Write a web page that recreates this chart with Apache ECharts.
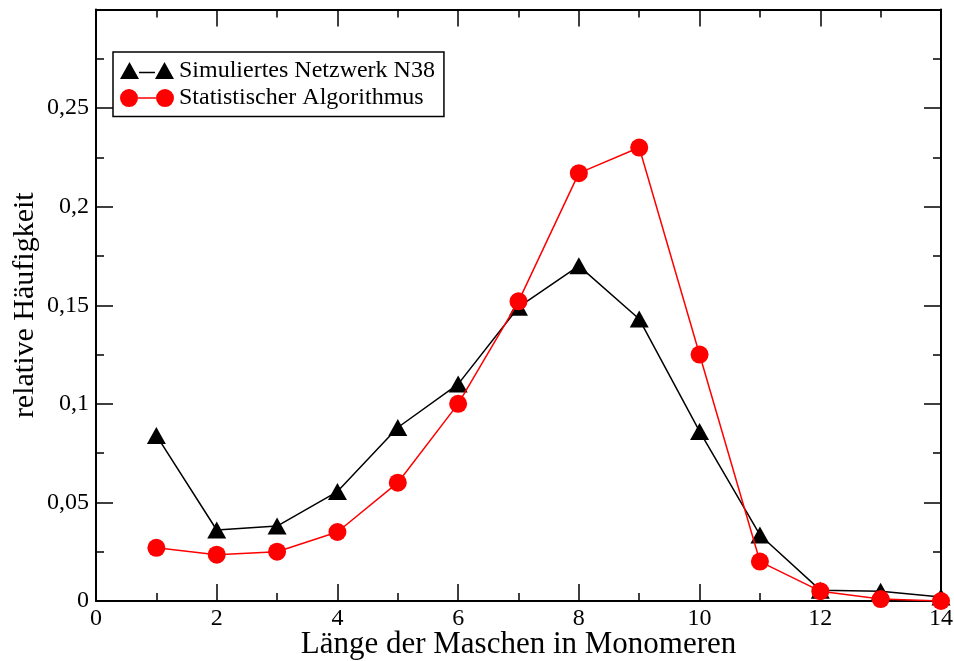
<!DOCTYPE html>
<html>
<head>
<meta charset="utf-8">
<script src="https://cdn.jsdelivr.net/npm/echarts@6/dist/echarts.min.js"></script>
<style>
  html, body { margin: 0; padding: 0; background: #fff; overflow: hidden; }
  #chart { width: 954px; height: 661px; }
</style>
</head>
<body>
<div id="chart"></div>
<script>
// Mesh length (number of monomers)
const meshLengths = [1, 2, 3, 4, 5, 6, 7, 8, 9, 10, 11, 12, 13, 14];
// Relative frequency, simulated network N38
const simulatedN38 = [0.084, 0.036, 0.038, 0.0555, 0.088, 0.110, 0.149, 0.170, 0.143, 0.086, 0.0335, 0.0055, 0.005, 0.002];
// Relative frequency, statistical algorithm
const statisticalAlgo = [0.027, 0.0235, 0.025, 0.035, 0.060, 0.100, 0.152, 0.217, 0.230, 0.125, 0.020, 0.005, 0.001, 0.0];

const seriesNames = ['Simuliertes Netzwerk N38', 'Statistischer Algorithmus'];

const FONT = 'Liberation Serif';

// legend glyphs: symbol - line - symbol
const triIcon = 'path://M0,17 L9.5,0 L19,17 Z M19,9.75 L35,9.75 L35,11.25 L19,11.25 Z M35,17 L44.5,0 L54,17 Z';
const dotIcon = 'path://M0,9 A9,9 0 1,1 18,9 A9,9 0 1,1 0,9 Z M18,8.25 L36,8.25 L36,9.75 L18,9.75 Z M36,9 A9,9 0 1,1 54,9 A9,9 0 1,1 36,9 Z';

const pairs = (ys) => meshLengths.map((x, i) => [x, ys[i]]);

// frame axes with inward major and minor ticks on all four sides
const tickCommon = {
  axisLine: { show: true, onZero: false, lineStyle: { color: '#000', width: 2 } },
  axisTick: { show: true, inside: true, length: 17, lineStyle: { color: '#000', width: 1.5 } },
  minorTick: { show: true, splitNumber: 2, length: 8, lineStyle: { color: '#000', width: 1.5 } },
  splitLine: { show: false },
  minorSplitLine: { show: false }
};

const chart = echarts.init(document.getElementById('chart'), null, { renderer: 'canvas', width: 954, height: 661 });

chart.setOption({
  animation: false,
  backgroundColor: '#fff',
  textStyle: { fontFamily: FONT },
  grid: { left: 96, width: 845, top: 9.5, height: 591.5, containLabel: false, outerBoundsMode: 'none' },
  legend: {
    orient: 'vertical',
    left: 113,
    top: 52,
    padding: [6.5, 9, 6.5, 7],
    itemGap: 3.6,
    itemWidth: 54,
    itemHeight: 18,
    borderColor: '#000',
    borderWidth: 1.5,
    backgroundColor: '#fff',
    textStyle: { fontFamily: FONT, fontSize: 24, color: '#000', lineHeight: 24 },
    data: [
      { name: seriesNames[0], icon: triIcon },
      { name: seriesNames[1], icon: dotIcon }
    ]
  },
  xAxis: [
    Object.assign({
      type: 'value', position: 'bottom', min: 0, max: 14, interval: 2,
      name: 'Länge der Maschen in Monomeren',
      nameLocation: 'middle', nameGap: 28, nameMoveOverlap: false,
      nameTextStyle: { fontFamily: FONT, fontSize: 31, color: '#000' },
      axisLabel: { show: true, margin: 6, fontFamily: FONT, fontSize: 24, color: '#000',
        showMinLabel: true, showMaxLabel: true }
    }, tickCommon),
    Object.assign({
      type: 'value', position: 'top', min: 0, max: 14, interval: 2,
      axisLabel: { show: false }
    }, tickCommon)
  ],
  yAxis: [
    Object.assign({
      type: 'value', position: 'left', min: 0, max: 0.3, interval: 0.05,
      name: 'relative Häufigkeit',
      nameLocation: 'middle', nameGap: 56, nameRotate: 90, nameMoveOverlap: false,
      nameTextStyle: { fontFamily: FONT, fontSize: 30, color: '#000' },
      axisLabel: {
        show: true, margin: 7, fontFamily: FONT, fontSize: 24, color: '#000',
        formatter: (v) => v >= 0.299 ? '' : String(+v.toFixed(2)).replace('.', ',')
      }
    }, tickCommon),
    Object.assign({
      type: 'value', position: 'right', min: 0, max: 0.3, interval: 0.05,
      axisLabel: { show: false }
    }, tickCommon)
  ],
  series: [
    {
      name: seriesNames[0], type: 'line', xAxisIndex: 0, yAxisIndex: 0,
      data: pairs(simulatedN38),
      symbol: 'triangle', symbolSize: [19, 17],
      color: '#000',
      itemStyle: { color: '#000' },
      lineStyle: { color: '#000', width: 1.5 },
      z: 3
    },
    {
      name: seriesNames[1], type: 'line', xAxisIndex: 0, yAxisIndex: 0,
      data: pairs(statisticalAlgo),
      symbol: 'circle', symbolSize: 18,
      color: '#ff0000',
      itemStyle: { color: '#ff0000' },
      lineStyle: { color: '#ff0000', width: 1.5 },
      z: 4
    }
  ]
});
</script>
</body>
</html>
